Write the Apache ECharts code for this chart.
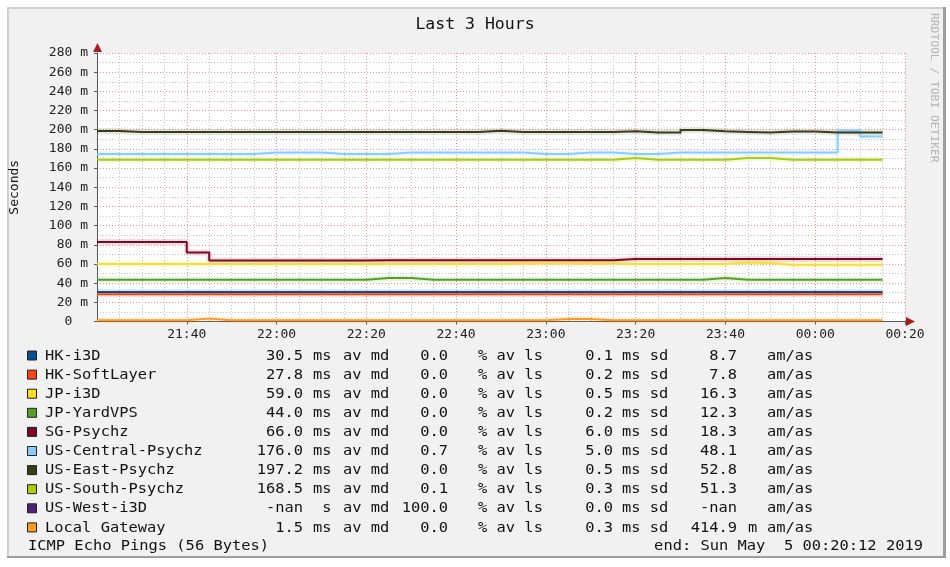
<!DOCTYPE html>
<html>
<head>
    <meta charset="utf-8">
    <title>Last 3 Hours</title>
    <script src="https://cdn.jsdelivr.net/npm/echarts@6/dist/echarts.min.js"></script>
    <style>
        html, body { margin: 0; padding: 0; background: #fff; }
        #chart { width: 950px; height: 567px; }
    </style>
</head>
<body>
<div id="chart"></div>
<script>
    // 5 minute slots, each value holds until the next slot
    var times = ['21:20','21:25','21:30','21:35','21:40','21:45','21:50','21:55','22:00','22:05',
                 '22:10','22:15','22:20','22:25','22:30','22:35','22:40','22:45','22:50','22:55',
                 '23:00','23:05','23:10','23:15','23:20','23:25','23:30','23:35','23:40','23:45',
                 '23:50','23:55','00:00','00:05','00:10'];
    var endTime = '00:15';

    var hkI3d = [30.7,30.7,30.7,30.7,30.7, 30.7,30.7,30.7,30.7,30.7, 30.7,30.7,30.7,30.7,30.7,
                 30.7,30.7,30.7,30.7,30.7, 30.7,30.7,30.7,30.7,30.7, 30.7,30.7,30.7,30.7,30.7,
                 30.7,30.7,30.7,30.7,30.7];
    var hkSoftLayer = [28.3,28.3,28.3,28.3,28.3, 28.3,28.3,28.3,28.3,28.3, 28.3,28.3,28.3,28.3,28.3,
                       28.3,28.3,28.3,28.3,28.3, 28.3,28.3,28.3,28.3,28.3, 28.3,28.3,28.3,28.3,28.3,
                       28.3,28.3,28.3,28.3,28.3];
    var jpI3d = [59.9,59.9,59.9,59.9,59.9, 59.9,59.9,59.9,59.9,59.9, 59.9,59.9,59.9,59.9,59.9,
                 59.9,59.9,59.9,60.4,60.5, 60.5,60.5,60.5,60.0,60.0, 60.0,60.0,60.0,61.5,61.0,
                 59.2,59.2,59.2,59.2,59.2];
    var jpYardVps = [43.6,43.6,43.6,43.6,43.6, 43.6,43.6,43.6,43.6,43.6, 43.6,43.6,45.3,45.3,43.6,
                     43.6,43.6,43.6,43.6,43.6, 43.6,43.6,43.6,43.6,43.6, 43.6,43.6,45.3,43.6,43.6,
                     43.6,43.6,43.6,43.6,43.6];
    var sgPsychz = [83.0,83.0,83.0,83.0,72.0, 63.5,63.5,63.5,63.5,63.5, 63.5,63.5,64.0,64.0,64.0,
                    64.0,64.0,64.0,64.0,64.0, 64.0,64.0,64.0,65.2,65.2, 65.2,65.2,65.2,65.2,65.2,
                    65.2,65.2,65.2,65.2,65.2];
    var usCentral = [174.6,174.6,174.6,174.6,174.6, 174.6,174.6,176.3,176.3,176.3, 174.6,174.6,174.6,176.3,176.3,
                     176.3,176.3,176.3,176.3,174.6, 174.6,176.3,176.3,174.8,174.8, 176.3,176.3,176.3,176.3,176.3,
                     176.3,176.3,176.3,199.3,193.0];
    var usEast = [198.6,197.5,197.5,197.5,197.5, 197.5,197.5,197.5,197.5,197.5, 197.5,197.5,197.5,197.5,197.5,
                  197.5,197.5,198.8,197.5,197.5, 197.5,197.5,197.5,198.5,197.0, 197.0,199.7,198.3,197.7,197.0,
                  198.2,198.2,197.2,197.2,197.2];
    var usSouth = [168.7,168.7,168.7,168.7,168.7, 168.7,168.7,168.7,168.7,168.7, 168.7,168.7,168.7,168.7,168.7,
                   168.7,168.7,168.7,168.7,168.7, 168.7,168.7,168.7,170.4,168.7, 168.7,168.7,168.7,170.4,170.4,
                   168.7,168.7,168.7,168.7,168.7];
    var usWest = [];
    var localGateway = [1.2,1.2,1.2,1.2,3.0, 1.2,1.2,1.2,1.2,1.2, 1.2,1.2,1.2,1.2,1.2,
                        1.2,1.2,1.2,1.2,1.2, 2.5,2.5,1.2,1.2,1.2, 1.2,1.2,1.2,1.2,1.2,
                        1.2,1.2,1.2,1.2,1.2];

    var names = ['HK-i3D','HK-SoftLayer','JP-i3D','JP-YardVPS','SG-Psychz','US-Central-Psychz',
                 'US-East-Psychz','US-South-Psychz','US-West-i3D','Local Gateway'];
    var colors = ['#0b4f8a','#ff4411','#ffdd22','#55a022','#7a0a26','#88ccff',
                  '#343f16','#aacc11','#4b2477','#ff9922'];
    var seriesData = [hkI3d, hkSoftLayer, jpI3d, jpYardVps, sgPsychz, usCentral, usEast, usSouth, usWest, localGateway];

    // legend table columns
    var avgMd = ['30.5','27.8','59.0','44.0','66.0','176.0','197.2','168.5','-nan','1.5'];
    var avgUnit = ['ms','ms','ms','ms','ms','ms','ms','ms','s','ms'];
    var lossPct = ['0.0','0.0','0.0','0.0','0.0','0.7','0.0','0.1','100.0','0.0'];
    var sdVal = ['0.1','0.2','0.5','0.2','6.0','5.0','0.5','0.3','0.0','0.3'];
    var amAs = ['8.7','7.8','16.3','12.3','18.3','48.1','52.8','51.3','-nan','414.9'];
    var amAsUnit = ['','','','','','','','','','m'];

    var yTicks = [0, 280, 20];       // min, max, step
    var xTicks = ['21:20', '00:20', 20];

    function toMin(t) {
        var p = t.split(':');
        var h = +p[0], m = +p[1];
        if (h < 12) h += 24;
        return h * 60 + m;
    }
    function fmtTime(v) {
        var m = v % 1440;
        var h = Math.floor(m / 60), mm = m % 60;
        return (h < 10 ? '0' : '') + h + ':' + (mm < 10 ? '0' : '') + mm;
    }

    var MONO = '"DejaVu Sans Mono", monospace';
    var chart = echarts.init(document.getElementById('chart'));

    var series = [];
    for (var i = 0; i < names.length; i++) {
        var vals = seriesData[i];
        var pts = [];
        for (var j = 0; j < vals.length; j++) pts.push([toMin(times[j]), vals[j]]);
        if (vals.length) pts.push([toMin(endTime), vals[vals.length - 1]]);
        // smoke halo
        series.push({
            type: 'line', step: 'end', data: pts, symbol: 'none', silent: true, z: 2,
            lineStyle: { color: colors[i], width: 6, opacity: 0.13 }
        });
        series.push({
            name: names[i], type: 'line', step: 'end', data: pts, symbol: 'none', z: 3,
            lineStyle: { color: colors[i], width: 2 }
        });
    }

    // frame, title, watermark, legend
    var graphic = [
        { type: 'rect', z: -10, shape: { x: 8, y: 8, width: 937, height: 549 }, style: { fill: '#f1f1f1' } },
        { type: 'rect', z: -9, shape: { x: 7, y: 7, width: 938, height: 2 }, style: { fill: '#cfcfcf' } },
        { type: 'rect', z: -9, shape: { x: 7, y: 7, width: 2, height: 550 }, style: { fill: '#cfcfcf' } },
        { type: 'rect', z: -9, shape: { x: 943, y: 7, width: 3, height: 551 }, style: { fill: '#9e9e9e' } },
        { type: 'rect', z: -9, shape: { x: 7, y: 556, width: 939, height: 2 }, style: { fill: '#9e9e9e' } },
        { type: 'text', x: 475, y: 25, scaleX: 1.1, z: 10,
          style: { text: 'Last 3 Hours', font: '15px ' + MONO, fill: '#111', textAlign: 'center', textVerticalAlign: 'middle' } },
        { type: 'text', x: 934, y: 13, rotation: -Math.PI / 2, z: 10,
          style: { text: 'RRDTOOL / TOBI OETIKER', font: '11.3px ' + MONO, fill: '#b4b4b4', textAlign: 'left', textVerticalAlign: 'middle' } },
        // axis arrows
        { type: 'polygon', z: 10, shape: { points: [[93, 52], [97.5, 43], [102, 52]] }, style: { fill: '#a81c1c' } },
        { type: 'line', z: 10, shape: { x1: 905, y1: 321.5, x2: 908, y2: 321.5 }, style: { stroke: '#555', lineWidth: 1 } },
        { type: 'polygon', z: 10, shape: { points: [[906, 317], [915, 321.5], [906, 326]] }, style: { fill: '#a81c1c' } },
        { type: 'text', x: 28, y: 546, scaleX: 1.1, z: 10,
          style: { text: 'ICMP Echo Pings (56 Bytes)', font: '14px ' + MONO, fill: '#111', textAlign: 'left', textVerticalAlign: 'middle' } },
        { type: 'text', x: 923, y: 546, scaleX: 1.1, z: 10,
          style: { text: 'end: Sun May  5 00:20:12 2019', font: '14px ' + MONO, fill: '#111', textAlign: 'right', textVerticalAlign: 'middle' } }
    ];

    function legendText(x, y, txt, align) {
        return { type: 'text', x: x, y: y, scaleX: 1.1, z: 10,
                 style: { text: txt, font: '14px ' + MONO, fill: '#111', textAlign: align, textVerticalAlign: 'middle' } };
    }
    for (var r = 0; r < names.length; r++) {
        var ry = 356 + r * 19.1;
        graphic.push({ type: 'rect', z: 10, shape: { x: 27.5, y: ry - 5, width: 9, height: 9 },
                       style: { fill: colors[r], stroke: '#222', lineWidth: 1 } });
        graphic.push(legendText(45, ry, names[r], 'left'));
        graphic.push(legendText(303, ry, avgMd[r], 'right'));
        graphic.push(legendText(331.5, ry, avgUnit[r], 'right'));
        graphic.push(legendText(343, ry, 'av md', 'left'));
        graphic.push(legendText(448, ry, lossPct[r], 'right'));
        graphic.push(legendText(478, ry, '% av ls', 'left'));
        graphic.push(legendText(613, ry, sdVal[r], 'right'));
        graphic.push(legendText(622, ry, 'ms sd', 'left'));
        graphic.push(legendText(737, ry, amAs[r], 'right'));
        graphic.push(legendText(748, ry, amAsUnit[r], 'left'));
        graphic.push(legendText(767, ry, 'am/as', 'left'));
    }

    var option = {
        animation: false,
        backgroundColor: '#ffffff',
        grid: {
            left: 97, right: 45, top: 53, bottom: 245.5,
            show: true, backgroundColor: '#ffffff', borderWidth: 0,
            containLabel: false, outerBoundsMode: 'none'
        },
        xAxis: {
            type: 'value',
            min: toMin(xTicks[0]), max: toMin(xTicks[1]), interval: xTicks[2],
            axisLine: { show: true, onZero: false, lineStyle: { color: '#555', width: 1 } },
            axisTick: { show: true, length: 3, inside: false, lineStyle: { color: '#555' } },
            minorTick: { show: false, splitNumber: 4 },
            axisLabel: {
                showMinLabel: false, showMaxLabel: true, hideOverlap: false, margin: 7,
                color: '#222', fontFamily: MONO, fontSize: 13,
                formatter: function (v) { return fmtTime(v); }
            },
            splitLine: { show: true, lineStyle: { color: '#e99595', type: [1, 2], width: 1 } },
            minorSplitLine: { show: true, lineStyle: { color: '#c4c4c4', type: [1, 2], width: 1 } }
        },
        yAxis: {
            type: 'value',
            min: yTicks[0], max: yTicks[1], interval: yTicks[2],
            name: 'Seconds', nameLocation: 'middle', nameRotate: 90, nameGap: 76,
            nameTextStyle: { color: '#111', fontFamily: MONO, fontSize: 13 },
            axisLine: { show: true, lineStyle: { color: '#555', width: 1 } },
            axisTick: { show: true, length: 3, lineStyle: { color: '#555' } },
            minorTick: { show: false, splitNumber: 2 },
            axisLabel: {
                margin: 9, hideOverlap: false, color: '#222', fontFamily: MONO, fontSize: 13,
                formatter: function (v) { return v === 0 ? '0  ' : v + ' m'; }
            },
            splitLine: { show: true, lineStyle: { color: '#e99595', type: [1, 2], width: 1 } },
            minorSplitLine: { show: true, lineStyle: { color: '#c4c4c4', type: [1, 2], width: 1 } }
        },
        graphic: graphic,
        series: series
    };
    chart.setOption(option);
</script>
</body>
</html>
